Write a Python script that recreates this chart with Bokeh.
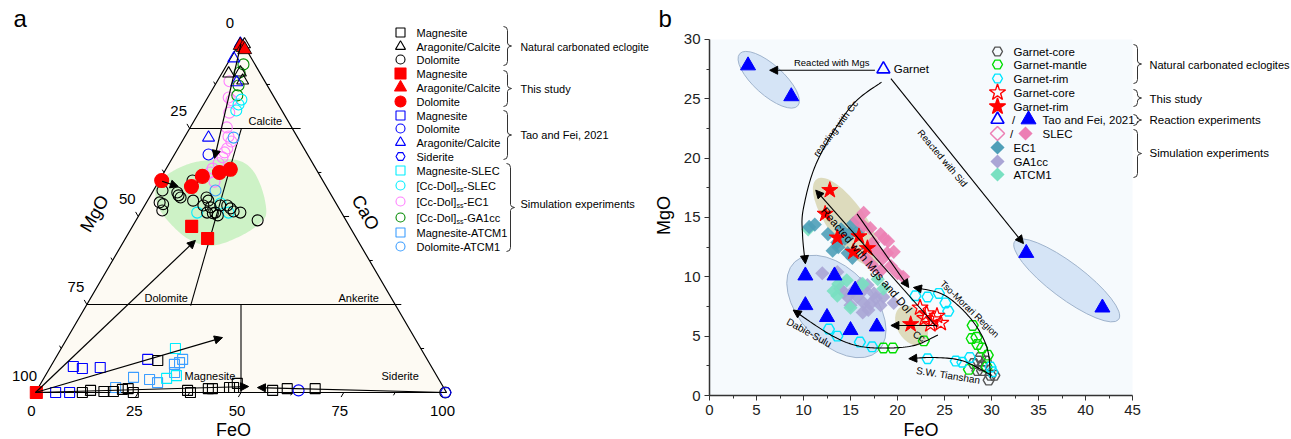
import numpy as np
from bokeh.plotting import figure
from bokeh.models import Label, Arrow, NormalHead, Range1d, FixedTicker
from bokeh.layouts import row
from bokeh.embed import file_html
from bokeh.resources import INLINE

FONT = "Liberation Sans"

# ================= Panel a : ternary (FeO, CaO in %, MgO = 100 - FeO - CaO) =================
nat_mgs_feo = [11.4, 13.1, 16.5, 18.8, 20.7, 22.0, 23.8, 25.2, 36.7, 37.7, 41.5, 42.5, 46.5, 47.5, 47.8, 57.4, 60.7, 67.5]
nat_mgs_cao = [0.0, 0.6, 0.3, 0.3, 0.9, 1.1, 0.0, 9.1, 0.6, 0.0, 1.1, 1.1, 1.4, 1.4, 2.6, 0.6, 1.1, 1.1]
nat_cc_feo = [1.4, 1.7, 4.4, 6.1]
nat_cc_cao = [98.9, 90.6, 90.9, 88.6]
nat_dol_feo = [2.2, 8.1, 6.1, 6.8, 7.6, 3.2, 5.0, 11.1, 13.9, 14.8, 14.3, 16.3, 16.2, 18.2, 18.4, 20.1,
               21.3, 22.5, 24.3, 29.6, 19.2, 17.7, 4.3, 99.7]
nat_dol_cao = [57.4, 60.2, 56.8, 56.0, 55.4, 54.0, 51.7, 54.5, 55.4, 54.5, 53.1, 52.6, 51.1, 51.1, 53.1, 53.1,
               52.3, 51.4, 51.1, 48.9, 50.3, 50.9, 53.5, 0.0]

ts_mgs_feo = [0.2, 14.4, 20.0]
ts_mgs_cao = [0.0, 47.2, 43.75]
ts_cc_feo = [0.5, 1.5, 2.2]
ts_cc_cao = [98.6, 98.0, 97.4]
ts_dol_feo = [0.6, 8.7, 9.9, 13.5, 15.7]
ts_dol_cao = [60.2, 58.5, 61.4, 62.5, 63.4]

tao_mgs_feo = [5.5, 8.0, 12.2, 22.6, 4.9, 8.3]
tao_mgs_cao = [7.4, 6.8, 7.1, 9.4, 0.0, 0.0]
tao_dol_feo = [8.3, 63.7]
tao_dol_cao = [67.6, 0.6]
tao_cc_feo = [0.3, 0.8, 4.9, 5.9]
tao_cc_cao = [99.1, 94.9, 88.1, 72.4]
tao_sid_feo = [99.8]
tao_sid_cao = [0.0]

slec_mgs_feo = [27.8, 31.9, 29.9]
slec_mgs_cao = [12.5, 4.8, 4.0]
slec_dol_feo = [8.5, 8.8, 8.5, 13.8, 18.2, 21.4]
slec_dol_cao = [83.2, 80.1, 81.8, 51.1, 53.7, 51.1]
ec1_dol_feo = [3.0, 5.1, 6.2, 7.4, 8.9, 10.6, 12.0, 12.0, 12.1, 12.0, 11.3, 11.3, 13.6, 11.9]
ec1_dol_cao = [88.4, 83.8, 83.0, 79.5, 75.3, 72.7, 71.3, 69.3, 66.8, 65.1, 63.6, 62.5, 59.9, 68.2]
ga1cc_dol_feo = [4.0, 4.2, 5.8, 6.9]
ga1cc_dol_cao = [93.2, 90.9, 87.2, 84.4]
atcm_mgs_feo = [21.7, 25.9, 28.3, 29.8, 30.8, 31.1, 31.0, 18.8]
atcm_mgs_cao = [4.3, 3.7, 2.8, 8.0, 8.5, 9.4, 5.7, 1.4]
atcm_dol_feo = [12.0, 15.1]
atcm_dol_cao = [72.4, 57.4]

# green field (FeO, CaO)
field_feo = [0.0, 1.6, 5.2, 10.7, 16.4, 21.3, 26.5, 30.6, 30.6, 28.5, 24.3, 20.5, 15.1, 9.6, 4.5, 1.2]
field_cao = [59.4, 62.5, 65.1, 66.2, 65.9, 63.1, 57.4, 51.1, 48.3, 45.2, 42.3, 41.8, 43.75, 47.4, 51.7, 56.0]

# ================= Panel b : FeO vs MgO (wt%) =================
grt_core_feo = [28.1, 28.6, 29.0, 28.5, 29.0, 29.9, 30.3, 29.7, 29.4, 28.8]
grt_core_mgo = [2.7, 2.9, 2.5, 2.1, 2.1, 1.7, 1.7, 1.3, 2.9, 3.2]
grt_mantle_feo = [18.5, 19.5, 22.8, 28.0, 27.9, 28.4, 28.5, 29.0, 29.6, 27.6, 29.5]
grt_mantle_mgo = [4.0, 4.0, 4.6, 5.9, 4.8, 4.9, 4.3, 4.0, 3.4, 2.2, 2.4]
grt_rim_feo = [12.7, 13.6, 16.0, 17.3, 21.9, 23.2, 24.4, 25.1, 25.4, 23.2, 26.2, 26.9, 27.7, 29.9, 30.1]
grt_rim_mgo = [5.6, 5.0, 4.5, 4.1, 8.4, 8.3, 8.6, 7.8, 7.1, 3.1, 2.9, 2.8, 3.2, 2.4, 2.0]
ts_core_feo = [22.4, 23.1, 23.8, 24.6, 23.5, 22.9, 24.2]
ts_core_mgo = [7.4, 6.9, 6.4, 6.1, 6.0, 6.5, 6.7]
ts_rim_feo = [12.8, 12.3, 13.6, 15.9, 15.3, 16.8, 21.4]
ts_rim_mgo = [17.3, 15.3, 13.3, 13.4, 12.1, 12.4, 6.0]
tao_start_feo = [18.5]
tao_start_mgo = [27.5]
tao_prod_feo = [4.1, 8.7, 33.7, 41.8, 10.2, 13.3, 15.5, 10.2, 12.5, 15.0, 17.8]
tao_prod_mgo = [27.8, 25.2, 12.0, 7.4, 10.1, 10.1, 8.9, 7.6, 6.6, 5.5, 5.8]
slec_feo = [15.7, 16.4, 16.4, 17.1, 18.2, 18.6, 17.4, 17.8, 18.9, 19.6, 18.4, 19.3, 20.0, 18.2, 17.3, 16.6, 19.0, 20.6]
slec_mgo = [14.8, 15.4, 14.3, 14.1, 13.6, 13.2, 12.9, 12.2, 12.0, 12.1, 11.5, 10.9, 10.3, 10.5, 11.0, 11.6, 13.0, 10.0]
ec1_feo = [10.6, 11.2, 13.1, 13.7, 15.3, 15.0, 14.7, 15.2, 13.6, 14.4, 15.8, 12.6, 14.0]
ec1_mgo = [14.2, 14.4, 12.2, 12.5, 14.5, 13.7, 12.0, 11.6, 12.9, 13.2, 13.8, 13.6, 14.0]
ga1cc_feo = [12.0, 13.6, 14.3, 14.7, 15.3, 15.7, 16.1, 16.8, 17.5, 17.7, 18.5, 19.6, 16.4, 16.9, 17.1, 16.3, 16.4,
             13.9, 15.0, 18.2]
ga1cc_mgo = [10.3, 10.4, 8.7, 8.3, 8.8, 8.3, 9.4, 9.3, 8.6, 8.2, 8.3, 7.8, 7.8, 7.2, 7.7, 7.0, 8.9, 9.0, 7.6, 7.6]
atcm1_feo = [13.7, 13.2, 13.6, 15.0, 16.3, 14.6, 18.5, 17.9, 10.5]
atcm1_mgo = [9.4, 8.8, 8.4, 7.4, 9.4, 9.7, 9.0, 9.8, 14.0]

# colours
RED, BLUE, BLACK = "#ff0000", "#0000ff", "#000000"
CYAN, PINK, GREEN, LBLUE = "#00eeff", "#ff80ff", "#008a00", "#3d9eff"
GRAY, LGREEN, CYANB = "#555555", "#00dd00", "#00e6ff"
PINKD, EC1C, GA1C, ATC = "#ec7fb4", "#4f9fb8", "#aaa5d5", "#79e0c1"

S3 = np.sqrt(3) / 2
W_A, W_B, H = 655, 635, 438


def tern(feo, cao):
    f = np.asarray(feo, float)
    c = np.asarray(cao, float)
    return f + c / 2, c * S3


def smooth(pts, n=12, closed=False):
    P = np.asarray(pts, float)
    if closed:
        P = np.vstack([P[-1], P, P[0], P[1]])
    else:
        P = np.vstack([P[0], P, P[-1]])
    out = []
    for i in range(1, len(P) - 2):
        p0, p1, p2, p3 = P[i - 1], P[i], P[i + 1], P[i + 2]
        for t in np.linspace(0, 1, n, endpoint=False):
            out.append(0.5 * (2 * p1 + (-p0 + p2) * t + (2 * p0 - 5 * p1 + 4 * p2 - p3) * t * t
                              + (-p0 + 3 * p1 - 3 * p2 + p3) * t ** 3))
    out.append(P[-2])
    return np.array(out)


def lab(p, x, y, text, size="11px", angle=0.0, align="left", baseline="middle", color="black"):
    p.add_layout(Label(x=float(x), y=float(y), text=text, text_font=FONT, text_font_size=size,
                       angle=angle, text_align=align, text_baseline=baseline, text_color=color,
                       text_font_style="normal"))


def arrow(p, x0, y0, x1, y1, size=8, lw=1.2):
    p.add_layout(Arrow(end=NormalHead(size=size, fill_color="black", line_color="black", line_width=1),
                       x_start=float(x0), y_start=float(y0), x_end=float(x1), y_end=float(y1),
                       line_color="black", line_width=lw))


def brace(p, cx, cy, x0, yt, yb):
    ym = (yt + yb) / 2
    px = [x0, x0 + 3, x0 + 4, x0 + 4, x0 + 5, x0 + 8, x0 + 5, x0 + 4, x0 + 4, x0 + 3, x0]
    py = [yt, yt + 1, yt + 4, ym - 3, ym - 1, ym, ym + 1, ym + 3, yb - 4, yb - 1, yb]
    p.line([cx(v) for v in px], [cy(v) for v in py], line_color="#333333", line_width=1)


# ---------------------------------------------------------------- panel a
AX0, AXS, AY0, AYS = 35.0, 4.11, 392.0, 4.065


def ax(px):
    return (px - AX0) / AXS


def ay(py):
    return (AY0 - py) / AYS


pa = figure(width=W_A, height=H, x_range=Range1d(ax(0), ax(W_A)), y_range=Range1d(ay(H), ay(0)),
            x_axis_location=None, y_axis_location=None, toolbar_location=None, output_backend="svg",
            min_border=0)
pa.outline_line_color = None
pa.grid.visible = False

tx, ty = tern([0, 100, 0], [0, 0, 100])
pa.patch(tx, ty, fill_color="#fdfaf3", line_color=None)

fx, fy = tern(field_feo, field_cao)
blob = smooth(np.column_stack([fx, fy]), closed=True)
pa.patch(blob[:, 0], blob[:, 1], fill_color="#c4f0bd", fill_alpha=0.85, line_color=None)

pa.patch(tx, ty, fill_color=None, line_color="black", line_width=1.2)
for fe, ca in (([0, 27], [75, 75]), ([0, 76.5], [25, 25]), ([37.5, 50], [25, 0]), ([12.6, 25.4], [75, 24.7])):
    lx, ly = tern(fe, ca)
    pa.line(lx, ly, line_color="black", line_width=1.1)

# ticks on three edges
tk_x, tk_y = [], []
for v in np.arange(12.5, 100, 12.5):
    L = 1.3 if v % 25 == 0 else 0.8
    bx0, by0 = tern(v, 0)
    tk_x.append([bx0, bx0 - 0.5 * L]); tk_y.append([by0, by0 - S3 * L])
    rx0, ry0 = tern(100 - v, v)
    tk_x.append([rx0, rx0 + L]); tk_y.append([ry0, ry0])
    lx0, ly0 = tern(0, 100 - v)
    tk_x.append([lx0, lx0 - 0.5 * L]); tk_y.append([ly0, ly0 + S3 * L])
pa.multi_line(tk_x, tk_y, line_color="black", line_width=1)

# MgO tick labels (left edge) and FeO tick labels (bottom edge)
for m in (0, 25, 50, 75, 100):
    x0, y0 = tern(0, 100 - m)
    lab(pa, x0 - 11 / AXS, y0 + 17 / AYS, str(m), size="15px", align="center")
for f in (0, 25, 50, 75, 100):
    x0, y0 = tern(f, 0)
    lab(pa, x0 - 4 / AXS, y0 - 18 / AYS, str(f), size="15px", align="center")

lab(pa, ax(94), ay(213), "MgO", size="18px", angle=np.pi / 3, align="center")
lab(pa, ax(365), ay(212), "CaO", size="18px", angle=-np.pi / 3, align="center")
lab(pa, ax(233), ay(429), "FeO", size="18px", align="center")
lab(pa, ax(13), ay(18), "a", size="24px", align="left")
lab(pa, ax(248), ay(120), "Calcite", size="11px")
lab(pa, ax(144), ay(297), "Dolomite", size="11px")
lab(pa, ax(338), ay(297), "Ankerite", size="11px")
lab(pa, ax(184), ay(375), "Magnesite", size="11px")
lab(pa, ax(381), ay(375), "Siderite", size="11px")

# arrows
for (f0, c0, f1, c1) in ((0.5, 99.0, 10.3, 66.5), (0.8, 60.0, 5.5, 58.5), (0, 0, 17.3, 43.2),
                         (0, 0, 37.7, 15.6), (0, 0, 51.0, 1.7), (100, 0, 53.3, 1.4)):
    xa, ya = tern([f0, f1], [c0, c1])
    arrow(pa, xa[0], ya[0], xa[1], ya[1], size=8)


def tsc(feo, cao, marker, color, fill, size, lw=1.1):
    x, y = tern(feo, cao)
    pa.scatter(x, y, marker=marker, size=size, line_color=color, fill_color=fill, line_width=lw)


tsc(atcm_mgs_feo, atcm_mgs_cao, "square", LBLUE, None, 10)
tsc(slec_mgs_feo, slec_mgs_cao, "square", CYAN, None, 10)
tsc(tao_mgs_feo, tao_mgs_cao, "square", BLUE, None, 10)
tsc(nat_mgs_feo, nat_mgs_cao, "square", BLACK, None, 10)
tsc(ec1_dol_feo, ec1_dol_cao, "circle", PINK, None, 11)
tsc(ga1cc_dol_feo, ga1cc_dol_cao, "circle", GREEN, None, 11)
tsc(slec_dol_feo, slec_dol_cao, "circle", CYAN, None, 11)
tsc(atcm_dol_feo, atcm_dol_cao, "circle", LBLUE, None, 11)
tsc(nat_dol_feo, nat_dol_cao, "circle", BLACK, None, 11)
tsc(nat_cc_feo, nat_cc_cao, "triangle", BLACK, None, 12)
tsc(tao_cc_feo, tao_cc_cao, "triangle", BLUE, None, 12)
tsc(tao_dol_feo, tao_dol_cao, "circle", BLUE, None, 11)
tsc(tao_sid_feo, tao_sid_cao, "hex", BLUE, None, 11)
tsc(ts_mgs_feo, ts_mgs_cao, "square", RED, RED, 12)
tsc(ts_dol_feo, ts_dol_cao, "circle", RED, RED, 14)
tsc(ts_cc_feo, ts_cc_cao, "triangle", BLACK, RED, 14, 0.8)

# legend a
leg_a = [("square", BLACK, None, "Magnesite"), ("triangle", BLACK, None, "Aragonite/Calcite"),
         ("circle", BLACK, None, "Dolomite"), ("square", RED, RED, "Magnesite"),
         ("triangle", RED, RED, "Aragonite/Calcite"), ("circle", RED, RED, "Dolomite"),
         ("square", BLUE, None, "Magnesite"), ("circle", BLUE, None, "Dolomite"),
         ("triangle", BLUE, None, "Aragonite/Calcite"), ("hex", BLUE, None, "Siderite"),
         ("square", CYAN, None, "Magnesite-SLEC"), ("circle", CYAN, None, ("[Cc-Dol]", "ss", "-SLEC")),
         ("circle", PINK, None, ("[Cc-Dol]", "ss", "-EC1")), ("circle", GREEN, None, ("[Cc-Dol]", "ss", "-GA1cc")),
         ("square", LBLUE, None, "Magnesite-ATCM1"), ("circle", LBLUE, None, "Dolomite-ATCM1")]
rows_a = [32, 46, 59, 73, 87, 101, 115, 128, 142, 156, 170, 185, 201, 217, 232, 246]
for (mk, col, fill, text), ry in zip(leg_a, rows_a):
    sz = (12 if mk == "triangle" else 11) if fill else (10 if mk == "triangle" else 9)
    pa.scatter([ax(400)], [ay(ry)], marker=mk, size=sz, line_color=col, fill_color=fill, line_width=1.1)
    if isinstance(text, tuple):
        lab(pa, ax(416), ay(ry), text[0])
        lab(pa, ax(456), ay(ry + 4), text[1], size="7px")
        lab(pa, ax(463), ay(ry), text[2])
    else:
        lab(pa, ax(416), ay(ry), text)
brace(pa, ax, ay, 503, 26, 65)
brace(pa, ax, ay, 503, 70, 106)
brace(pa, ax, ay, 503, 110, 159)
brace(pa, ax, ay, 506, 163, 251)
lab(pa, ax(520), ay(46), "Natural carbonated eclogite", size="10.5px")
lab(pa, ax(520), ay(88), "This study")
lab(pa, ax(520), ay(134), "Tao and Fei, 2021")
lab(pa, ax(520), ay(203), "Simulation experiments")

# ---------------------------------------------------------------- panel b
BX0, BXS, BY0, BYS = 709.0, 9.4, 395.0, 11.87


def bx(px):
    return (px - BX0) / BXS


def by(py):
    return (BY0 - py) / BYS


pb = figure(width=W_B, height=H, x_range=Range1d(bx(W_A), bx(W_A + W_B)), y_range=Range1d(by(H), by(0)),
            toolbar_location=None, output_backend="svg", min_border=0)
pb.outline_line_color = None
pb.grid.visible = False
for axis, hi in ((pb.xaxis[0], 45), (pb.yaxis[0], 30)):
    axis.fixed_location = 0
    axis.bounds = (0, hi)
    axis.ticker = FixedTicker(ticks=list(range(0, hi + 1, 5)), minor_ticks=[v + 2.5 for v in range(0, hi, 5)])
    axis.axis_line_color = "#333333"
    axis.axis_line_width = 1.5
    axis.major_tick_line_color = "#333333"
    axis.minor_tick_line_color = "#333333"
    axis.major_tick_in = 0
    axis.major_tick_out = 5
    axis.minor_tick_in = 0
    axis.minor_tick_out = 3
    axis.major_label_text_font = FONT
    axis.major_label_text_font_size = "15px"
    axis.major_label_text_color = "#222222"
    axis.major_label_standoff = 4

pb.quad(left=0, right=45, bottom=0, top=30, fill_color="#f6fafd", line_color=None, level="underlay")

# ellipses (screen-size)
pb.ellipse(x=[6.3, 38.0, 13.5], y=[26.6, 9.7, 7.5], width=[78, 130, 122], height=[30, 35, 74],
           angle=[np.radians(-42), np.radians(-37), np.radians(-47)], width_units="screen",
           height_units="screen", fill_color="#c9dcf3", fill_alpha=0.75, line_color="#9fb3cc", line_width=1)
pb.ellipse(x=[14.6, 21.5], y=[14.6, 5.9], width=[105, 43], height=[38, 29],
           angle=[np.radians(-55), np.radians(-60)], width_units="screen", height_units="screen",
           fill_color="#d7d3ad", fill_alpha=0.8, line_color=None)

D = np.pi / 4
pb.scatter(ga1cc_feo, ga1cc_mgo, marker="square", angle=D, size=10, fill_color=GA1C, line_color=None, fill_alpha=0.9)
pb.scatter(atcm1_feo, atcm1_mgo, marker="square", angle=D, size=10, fill_color=ATC, line_color=None, fill_alpha=0.9)
pb.scatter(ec1_feo, ec1_mgo, marker="square", angle=D, size=10, fill_color=EC1C, line_color=None, fill_alpha=0.9)
pb.scatter(slec_feo, slec_mgo, marker="square", angle=D, size=10, fill_color=PINKD, line_color=None, fill_alpha=0.9)
pb.scatter(grt_core_feo, grt_core_mgo, marker="hex", size=11, line_color=GRAY, fill_color=None, line_width=1.4)
pb.scatter(grt_mantle_feo, grt_mantle_mgo, marker="hex", size=11, line_color=LGREEN, fill_color=None, line_width=1.4)
pb.scatter(grt_rim_feo, grt_rim_mgo, marker="hex", size=11, line_color=CYANB, fill_color=None, line_width=1.4)
pb.scatter(tao_prod_feo, tao_prod_mgo, marker="triangle", size=15, line_color=BLUE, fill_color=BLUE)
pb.scatter(tao_start_feo, tao_start_mgo, marker="triangle", size=13, line_color=BLUE, fill_color=None, line_width=1.6)
pb.scatter(ts_core_feo, ts_core_mgo, marker="star", size=17, line_color=RED, fill_color=None, line_width=1.3)
pb.scatter(ts_rim_feo, ts_rim_mgo, marker="star", size=17, line_color=RED, fill_color=RED)

# arrows and curves
arrow(pb, 17.6, 27.4, 6.4, 27.4, size=8, lw=1.1)
arrow(pb, 19.3, 26.7, 33.4, 12.8, size=8, lw=1.1)
arrow(pb, 24.2, 5.75, 11.3, 17.3, size=8, lw=1.1)
arrow(pb, 15.7, 15.3, 21.2, 9.1, size=8, lw=1.1)
arrow(pb, 24.2, 5.9, 19.3, 5.9, size=8, lw=1.1)
for path in ([(18.3, 26.4), (15.0, 24.3), (11.5, 19.8), (10.0, 15.8), (9.9, 13.5), (10.2, 11.1)],
             [(24.3, 5.1), (21.7, 4.2), (18.5, 4.0), (15.7, 4.2), (12.9, 5.1), (8.9, 7.2)],
             [(29.9, 1.5), (29.6, 3.8), (28.5, 5.7), (26.7, 7.4), (24.6, 8.6), (21.7, 9.1)],
             [(30.0, 1.7), (27.0, 2.9), (24.0, 3.2), (21.2, 3.1)]):
    c = smooth(path, n=14)
    pb.line(c[:-1, 0], c[:-1, 1], line_color="black", line_width=1.1)
    arrow(pb, c[-3, 0], c[-3, 1], c[-1, 0], c[-1, 1], size=8, lw=1.1)

lab(pb, 13.0, 28.05, "Reacted with Mgs", size="9.5px", align="center")
lab(pb, 19.6, 27.5, "Garnet", size="11.5px")
lab(pb, 13.4, 22.5, "reacting with Cc", size="9.5px", angle=np.radians(53), align="center")
lab(pb, 24.8, 20.0, "Reacted with Sid", size="9.5px", angle=np.radians(-50), align="center")
lab(pb, 16.7, 11.4, "Reacted with Mgs and Dol", size="11.5px", angle=np.radians(-50), align="center")
lab(pb, 22.3, 5.0, "Cc", size="10px", angle=np.radians(-30), align="center")
lab(pb, 10.6, 5.3, "Dabie-Sulu", size="10px", angle=np.radians(-29), align="center")
lab(pb, 27.7, 7.3, "Tso-Morari Region", size="9.5px", angle=np.radians(-44), align="center")
lab(pb, 25.4, 1.7, "S.W. Tianshan", size="10px", angle=np.radians(-9), align="center")
lab(pb, 22.5, by(429), "FeO", size="18px", align="center")
lab(pb, bx(663), by(215), "MgO", size="18px", angle=np.pi / 2, align="center")
lab(pb, bx(658), by(18), "b", size="24px")

# legend b
rows_b = [51, 64, 78, 92, 106, 119, 133, 147, 161, 174]
simple = [(0, "hex", GRAY, None, "Garnet-core", 10), (1, "hex", LGREEN, None, "Garnet-mantle", 10),
          (2, "hex", CYANB, None, "Garnet-rim", 10), (3, "star", RED, None, "Garnet-core", 17),
          (4, "star", RED, RED, "Garnet-rim", 17)]
for i, mk, col, fill, text, sz in simple:
    pb.scatter([bx(997)], [by(rows_b[i])], marker=mk, size=sz, line_color=col, fill_color=fill, line_width=1.4)
    lab(pb, bx(1013), by(rows_b[i]), text, size="11.5px")
pb.scatter([bx(997)], [by(119)], marker="triangle", size=13, line_color=BLUE, fill_color=None, line_width=1.6)
pb.scatter([bx(1028)], [by(119)], marker="triangle", size=15, line_color=BLUE, fill_color=BLUE)
lab(pb, bx(1013), by(119), "/", size="11.5px", align="center")
lab(pb, bx(1042), by(119), "Tao and Fei, 2021", size="11.5px")
pb.scatter([bx(997)], [by(133)], marker="square", angle=D, size=10, line_color=PINKD, fill_color=None, line_width=1.5)
pb.scatter([bx(1025)], [by(133)], marker="square", angle=D, size=10, line_color=None, fill_color=PINKD)
lab(pb, bx(1011), by(133), "/", size="11.5px", align="center")
lab(pb, bx(1042), by(133), "SLEC", size="11.5px")
for ry, col, text in ((147, EC1C, "EC1"), (161, GA1C, "GA1cc"), (174, ATC, "ATCM1")):
    pb.scatter([bx(997)], [by(ry)], marker="square", angle=D, size=10, line_color=None, fill_color=col)
    lab(pb, bx(1013), by(ry), text, size="11.5px")
brace(pb, bx, by, 1133, 44, 83)
brace(pb, bx, by, 1133, 89, 106)
brace(pb, bx, by, 1133, 114, 125)
brace(pb, bx, by, 1133, 129, 177)
lab(pb, bx(1149), by(64), "Natural carbonated eclogites", size="11px")
lab(pb, bx(1149), by(98), "This study", size="11.5px")
lab(pb, bx(1149), by(119), "Reaction experiments", size="11.5px")
lab(pb, bx(1149), by(152), "Simulation experiments", size="11.5px")

layout = row(pa, pb)
open("out.html", "w").write(file_html(layout, INLINE))
